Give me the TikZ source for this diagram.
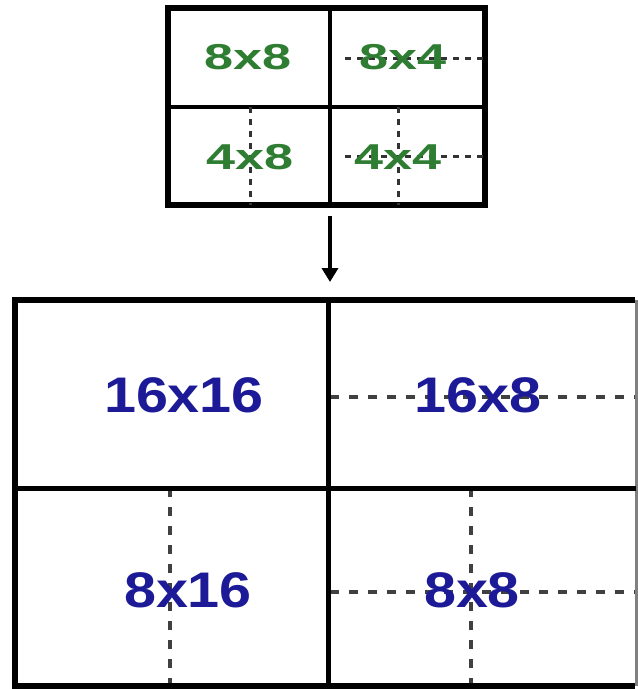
\documentclass[tikz,border=0pt]{standalone}
\usepackage{fontspec}
\setmainfont{Liberation Sans}
\usetikzlibrary{arrows.meta}
\definecolor{gtext}{HTML}{2E7D32}
\definecolor{btext}{HTML}{1C1A96}
\begin{document}
\begin{tikzpicture}[x=1pt,y=-1pt,
  outerbox/.style={draw=black,line width=6pt,inner sep=0pt},
  innerline/.style={draw=black,line width=4pt},
  dashline/.style={draw=black!80,line width=3pt,dash pattern=on 6pt off 6pt},
  bigdash/.style={draw=black!75,line width=3.5pt,dash pattern=on 9pt off 10pt},
  gtxt/.style={font=\bfseries\fontsize{36}{36}\selectfont,text=gtext,inner sep=0pt},
  btxt/.style={font=\bfseries\fontsize{50}{50}\selectfont,text=btext,inner sep=0pt}]
\useasboundingbox (0,0) rectangle (638,689);
\fill[white] (0,0) rectangle (638,689);
% top grid
\node[outerbox,minimum width=317pt,minimum height=197pt] (T) at (326.5,106.5) {};
\draw[innerline] (330,8) -- (330,205);
\draw[innerline] (168,107) -- (485,107);
\draw[dashline] (345,58) -- (485,58);
\draw[dashline] (250,107) -- (250,205);
\draw[dashline] (398,107) -- (398,205);
\draw[dashline] (345,156) -- (485,156);
\node[gtxt] (a) at (248,57) {\scalebox{1.45}[1]{8x8}};
\node[gtxt] (b) at (403,57) {\scalebox{1.45}[1]{8x4}};
\node[gtxt] (c) at (250,157) {\scalebox{1.45}[1]{4x8}};
\node[gtxt] (d) at (398,157) {\scalebox{1.45}[1]{4x4}};
% arrow
\coordinate (B) at (330,300);
\draw[line width=4pt,-{Triangle[length=14pt,width=16pt]}] (T.south -| 330,0) ++(0,8) -- (330,282);
% bottom grid
\draw[bigdash] (330,397) -- (636,397);
\draw[bigdash] (170,488) -- (170,686);
\draw[bigdash] (471,488) -- (471,686);
\draw[bigdash] (330,592) -- (636,592);
\draw[line width=6pt] (635,300) -- (15,300) -- (15,686) -- (635,686);
\draw[draw=black!50,line width=3pt] (636,300) -- (636,686);
\draw[line width=5pt] (328,300) -- (328,686);
\draw[line width=5pt] (15,488) -- (636,488);
\node[btxt] (e) at (184,395) {\scalebox{1.15}[1]{16x16}};
\node[btxt] (f) at (478,395) {\scalebox{1.15}[1]{16x8}};
\node[btxt] (g) at (188,590) {\scalebox{1.15}[1]{8x16}};
\node[btxt] (h) at (472,590) {\scalebox{1.15}[1]{8x8}};
\end{tikzpicture}
\end{document}
